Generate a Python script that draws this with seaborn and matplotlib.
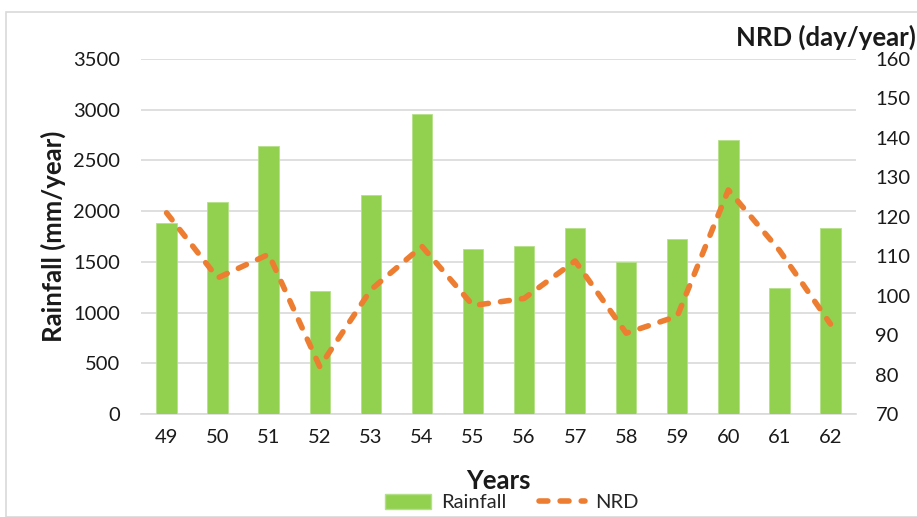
import numpy as np
import pandas as pd
import matplotlib
matplotlib.use("Agg")
import matplotlib.pyplot as plt
from matplotlib.patches import Rectangle
from matplotlib.lines import Line2D
from matplotlib.patches import Patch
import seaborn as sns

years = ["49", "50", "51", "52", "53", "54", "55", "56", "57", "58", "59", "60", "61", "62"]
rainfall = [1880, 2090, 2640, 1210, 2160, 2960, 1630, 1655, 1830, 1500, 1730, 2700, 1240, 1830]
nrd = [121, 104.5, 110.5, 82, 101.5, 112.5, 97.5, 99.3, 108.8, 90.5, 94.8, 126.8, 111.5, 92.8]
left_ticks = [0, 500, 1000, 1500, 2000, 2500, 3000, 3500]
right_ticks = [70, 80, 90, 100, 110, 120, 130, 140, 150, 160]

GREEN = "#92D050"
ORANGE = "#ED7D31"
GRID = "#D9D9D9"
TEXT = "#1a1a1a"
TICK_FS = 14.5
LABEL_FS = 18.5

sns.set_theme(style="white")
plt.rcParams["font.family"] = ["Lato", "DejaVu Sans"]

fig = plt.figure(figsize=(9.17, 5.17), dpi=100)
ax = fig.add_axes([0.1538, 0.1992, 0.9335 - 0.1538, 0.8859 - 0.1992])

df = pd.DataFrame({"Year": years, "Rainfall": rainfall, "NRD": nrd})
sns.barplot(data=df, x="Year", y="Rainfall", color=GREEN, saturation=1,
            width=0.4, ax=ax, zorder=3, edgecolor="#b5e08a", linewidth=0.6)

ax.set_ylim(0, 3500)
ax.set_yticks(left_ticks)
ax.set_xlim(-0.5, len(years) - 0.5)
ax.yaxis.grid(True, color=GRID, linewidth=1.2, zorder=0)
ax.set_axisbelow(True)
for s in ["left", "right", "top"]:
    ax.spines[s].set_visible(False)
ax.spines["bottom"].set_color(GRID)
ax.spines["bottom"].set_linewidth(1.2)
ax.tick_params(axis="both", length=0, labelsize=TICK_FS, colors=TEXT)
ax.tick_params(axis="y", pad=15)
ax.tick_params(axis="x", pad=11)
ax.set_xlabel("Years", fontsize=LABEL_FS, fontweight="bold", color=TEXT, labelpad=16)
ax.set_ylabel("Rainfall (mm/year)", fontsize=LABEL_FS, fontweight="bold", color=TEXT, labelpad=5)

ax2 = ax.twinx()
sns.lineplot(x=np.arange(len(years)), y=df["NRD"], ax=ax2, color=ORANGE,
             linewidth=4.0, zorder=4)
line = ax2.lines[0]
line.set_dashes((1.6, 2.2))
line.set_dash_capstyle("round")
line.set_solid_capstyle("round")
ax2.set_ylim(70, 160)
ax2.set_yticks(right_ticks)
ax2.set_ylabel("")
for s in ["left", "right", "top", "bottom"]:
    ax2.spines[s].set_visible(False)
ax2.tick_params(axis="y", length=0, labelsize=TICK_FS, colors=TEXT, pad=14)
ax2.grid(False)

fig.text(0.999, 0.927, "NRD (day/year)", ha="right", va="center",
         fontsize=LABEL_FS, fontweight="bold", color=TEXT)

handles = [Patch(facecolor=GREEN, edgecolor="#b5e08a"),
           Line2D([0], [0], color=ORANGE, linewidth=4.0, dashes=(1.6, 2.2),
                  dash_capstyle="round")]
fig.legend(handles, ["Rainfall", "NRD"], loc="center", bbox_to_anchor=(0.558, 0.028),
           ncol=2, frameon=False, fontsize=TICK_FS, handlelength=2.3, handleheight=0.8,
           columnspacing=1.6, handletextpad=0.5)

fig.add_artist(Rectangle((6 / 917, 0.0), 1.0, 1 - 12 / 517, transform=fig.transFigure,
                         fill=False, edgecolor=GRID, linewidth=1.2))

fig.savefig("out.png", dpi=100)
